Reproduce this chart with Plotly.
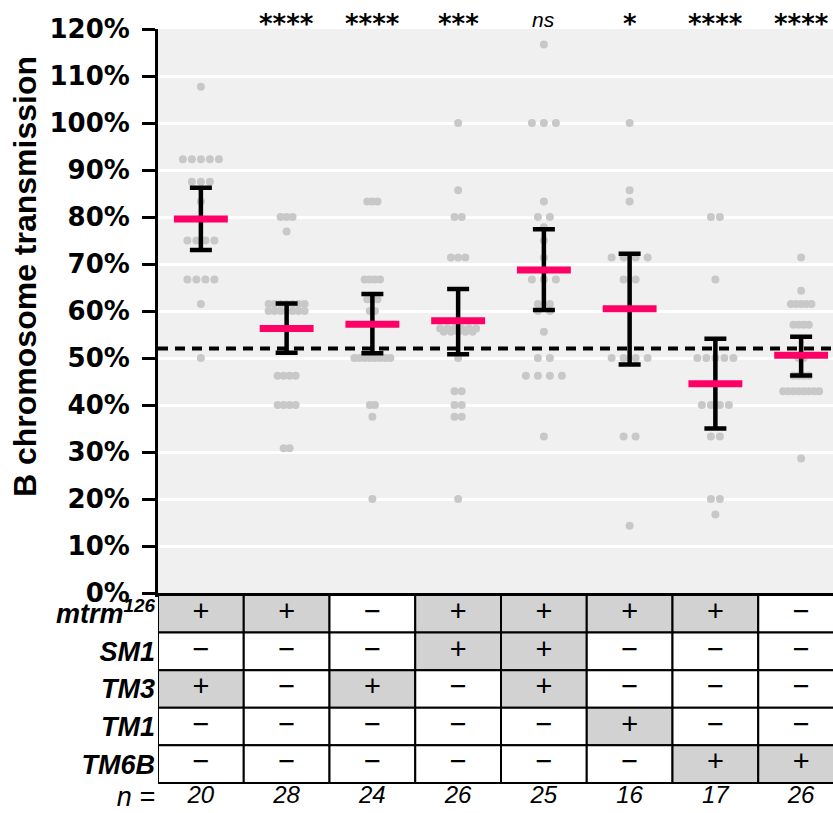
import plotly.graph_objects as go
from collections import Counter

# ---------------- data ----------------
groups = ["g1", "g2", "g3", "g4", "g5", "g6", "g7", "g8"]

g1 = [107.7] + [92.3]*5 + [87.5]*3 + [83.3] + [75.0]*4 + [66.7]*4 + [61.5] + [50.0]
g2 = [80.0]*3 + [76.9] + [61.5]*7 + [60.0]*7 + [46.2]*4 + [40.0]*4 + [30.8]*2
g3 = [83.3]*3 + [66.7]*4 + [62.5]*3 + [60.0]*2 + [50.0]*8 + [40.0]*2 + [37.5] + [20.0]
g4 = [100.0] + [85.7] + [80.0]*2 + [71.4]*3 + [56.3]*6 + [55.6]*5 + [50.0] + [42.9]*2 + [40.0]*2 + [37.5]*2 + [20.0]
g5 = [116.7] + [100.0]*3 + [83.3] + [80.0]*2 + [77.8] + [75.0] + [71.4] + [66.7]*3 + [61.5]*2 + [60.0]*2 + [55.6] + [50.0]*2 + [46.2]*4 + [33.3]
g6 = [100.0] + [85.7] + [83.3] + [71.4]*4 + [66.7]*2 + [50.0]*4 + [33.3]*2 + [14.3]
g7 = [80.0]*2 + [66.7] + [50.0]*5 + [40.0]*4 + [33.3]*2 + [20.0]*2 + [16.7]
g8 = [71.4] + [64.3] + [61.5]*5 + [57.1]*4 + [50.0]*2 + [46.2]*4 + [42.9]*8 + [28.6]
group_values = [g1, g2, g3, g4, g5, g6, g7, g8]

means = [79.6, 56.3, 57.2, 57.9, 68.7, 60.5, 44.5, 50.6]
err_hi = [86.2, 61.6, 63.6, 64.7, 77.4, 72.2, 54.1, 54.5]
err_lo = [73.0, 51.1, 51.0, 50.8, 60.2, 48.6, 35.0, 46.3]

significance = ["", "****", "****", "***", "ns", "*", "****", "****"]
reference_level = 52.0

n_values = [20, 28, 24, 26, 25, 16, 17, 26]

row_labels = ["mtrm<sup>126</sup>", "SM1", "TM3", "TM1", "TM6B"]
table = [
    ["+", "+", "−", "+", "+", "+", "+", "−"],
    ["−", "−", "−", "+", "+", "−", "−", "−"],
    ["+", "−", "+", "−", "+", "−", "−", "−"],
    ["−", "−", "−", "−", "−", "+", "−", "−"],
    ["−", "−", "−", "−", "−", "−", "+", "+"],
]

y_ticks = list(range(0, 121, 10))
y_ticktext = [f"{v}%" for v in y_ticks]

# ---------------- style / layout constants ----------------
W, H = 833, 813
L_PX = 158
COL_PX = 85.75          # pixel width of one category column
SWARM_SPAN_PX = 36.0    # max spread of a dot row
DOT_COLOR = "#c8c8c8"
PINK = "#ff0066"
BG = "#f0f0f0"
CELL_GRAY = "#d2d2d2"
ARIAL = "Liberation Sans, Arial, sans-serif"

def py(px):  # pixel row -> paper y
    return (H - px) / H

fig = go.Figure()

# beeswarm-like dots
xs, ys = [], []
for gi, vals in enumerate(group_values):
    cnt = Counter(vals)
    maxk = max(cnt.values())
    sp = min(12.0, SWARM_SPAN_PX / (maxk - 1)) if maxk > 1 else 0.0
    for v, k in cnt.items():
        for j in range(k):
            off_px = (j - (k - 1) / 2.0) * sp
            xs.append(gi + off_px / COL_PX)
            ys.append(v)
fig.add_trace(go.Scatter(x=xs, y=ys, mode="markers",
                         marker=dict(size=8, color=DOT_COLOR, line=dict(width=0)),
                         hoverinfo="skip"))

# error bars
fig.add_trace(go.Scatter(
    x=list(range(len(groups))), y=means, mode="markers",
    marker=dict(size=1, color="rgba(0,0,0,0)"),
    error_y=dict(type="data", symmetric=False,
                 array=[h - m for h, m in zip(err_hi, means)],
                 arrayminus=[m - l for l, m in zip(err_lo, means)],
                 color="black", thickness=4.5, width=11),
    hoverinfo="skip"))

# mean lines
fig.add_trace(go.Scatter(
    x=list(range(len(groups))), y=means, mode="markers",
    marker=dict(symbol="line-ew", size=38.5, color=PINK,
                line=dict(color=PINK, width=7)),
    hoverinfo="skip"))

# table text
tx, ty, tt = [], [], []
for r, row in enumerate(table):
    yc = len(table) - r - 0.5
    for c, s in enumerate(row):
        tx.append(c); ty.append(yc); tt.append(s)
fig.add_trace(go.Scatter(x=tx, y=ty, text=tt, mode="text", yaxis="y2",
                         textfont=dict(family=ARIAL, size=29, color="black"),
                         hoverinfo="skip"))
# n row
fig.add_trace(go.Scatter(x=list(range(len(groups))), y=[-0.37]*len(groups),
                         text=[str(n) for n in n_values], mode="text", yaxis="y2",
                         textfont=dict(family=ARIAL, size=24, color="black", style="italic"),
                         hoverinfo="skip", cliponaxis=False))

shapes = []
# plot background
shapes.append(dict(type="rect", xref="x domain", yref="y domain", x0=0, x1=1, y0=0, y1=1,
                   fillcolor=BG, line=dict(width=0), layer="below"))
# table cells
for r, row in enumerate(table):
    y0 = len(table) - r - 1
    for c, s in enumerate(row):
        shapes.append(dict(type="rect", xref="x", yref="y2",
                           x0=c - 0.5, x1=c + 0.5, y0=y0, y1=y0 + 1,
                           fillcolor=CELL_GRAY if s == "+" else "white",
                           line=dict(color="black", width=2), layer="below"))
# reference dashed line
shapes.append(dict(type="line", xref="x domain", yref="y", x0=0, x1=1,
                   y0=reference_level, y1=reference_level,
                   line=dict(color="black", width=4, dash="10px,7px"), layer="above"))

annotations = []
for gi, s in enumerate(significance):
    if not s:
        continue
    if s == "ns":
        annotations.append(dict(x=gi, y=py(19), xref="x", yref="paper", text="<i>ns</i>",
                                showarrow=False, yanchor="middle",
                                font=dict(family=ARIAL, size=21, color="black")))
    else:
        annotations.append(dict(x=gi, y=py(24), xref="x", yref="paper", text=s,
                                showarrow=False, yanchor="middle",
                                font=dict(family="DejaVu Sans", size=26, color="black", weight="bold")))
annotations.append(dict(x=(25 - L_PX) / (W - L_PX), y=py(277), xref="paper", yref="paper",
                        text="B chromosome transmission", textangle=-90, showarrow=False,
                        xanchor="center", yanchor="middle",
                        font=dict(family=ARIAL, size=32, color="black", weight="bold")))

y2_vals = [len(table) - r - 0.5 for r in range(len(table))] + [-0.37]
y2_text = [f"<b><i>{lab}</i></b>" for lab in row_labels] + ["<i>n =</i>"]

fig.update_layout(
    width=W, height=H,
    margin=dict(l=L_PX, r=0, t=0, b=0, autoexpand=False),
    paper_bgcolor="white", plot_bgcolor="white",
    showlegend=False,
    shapes=shapes, annotations=annotations,
    xaxis=dict(range=[-0.5, -0.5 + (W - L_PX) / COL_PX], domain=[0, 1], anchor="y",
               automargin=False,
               showgrid=False, zeroline=False, showticklabels=False, ticks="",
               showline=True, linecolor="black", linewidth=4),
    yaxis=dict(domain=[py(593), py(29)], range=[0, 120], automargin=False,
               tickvals=y_ticks, ticktext=y_ticktext,
               showgrid=True, gridcolor="white", gridwidth=3, zeroline=False,
               showline=True, linecolor="black", linewidth=3,
               ticks="outside", ticklen=13, tickwidth=3, tickcolor="black",
               ticklabelstandoff=7,
               tickfont=dict(family="DejaVu Sans", size=26, color="black", weight="bold")),
    yaxis2=dict(domain=[0, py(595)], range=[-0.8, 5], anchor="x", automargin=False,
                tickvals=y2_vals, ticktext=y2_text, ticks="", showgrid=False,
                zeroline=False, showline=False, ticklabelstandoff=2,
                tickfont=dict(family=ARIAL, size=27, color="black")),
)

fig.write_html("out.html", config={"displayModeBar": False},
               post_script="document.body.style.margin='0';")
